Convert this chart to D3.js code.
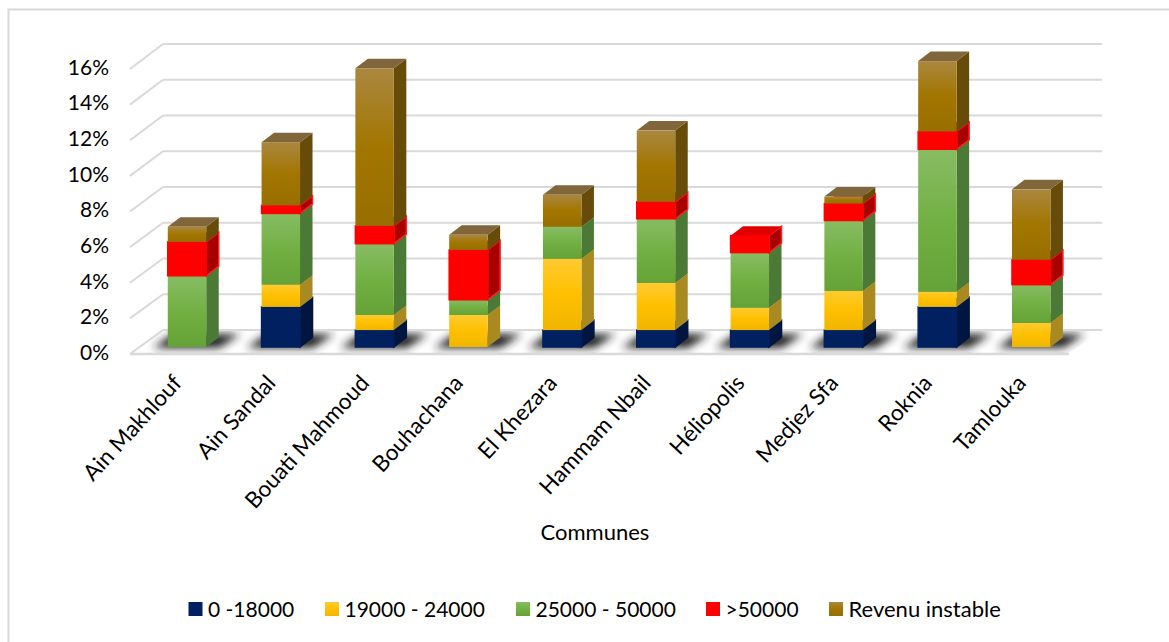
<!DOCTYPE html>
<html><head><meta charset="utf-8">
<script src="https://cdn.jsdelivr.net/npm/d3@7/dist/d3.min.js"></script>
<style>html,body{margin:0;padding:0;background:#fff;overflow:hidden}svg{display:block}</style>
</head><body><svg id="c" width="1169" height="642"></svg>
<script>
const categories=["Ain Makhlouf","Ain Sandal","Bouati Mahmoud","Bouhachana","El Khezara","Hammam Nbail","Héliopolis","Medjez Sfa","Roknia","Tamlouka"];
const seriesNames=["0 -18000","19000 - 24000","25000 - 50000",">50000","Revenu instable"];
const band1=[0,2.25,0.95,0,0.95,0.95,0.95,0.95,2.25,0];
const band2=[0,1.25,0.85,1.8,4.0,2.65,1.25,2.2,0.85,1.35];
const band3=[4.0,4.0,4.0,0.85,1.8,3.6,3.1,3.95,8.0,2.15];
const band4=[1.9,0.45,1.0,2.8,0,0.95,0.95,0.95,1.0,1.4];
const band5=[0.85,3.55,8.85,0.85,1.8,4.0,0,0.4,3.95,3.95];
const yTicks=[0,2,4,6,8,10,12,14,16];
const seriesBands=[band1,band2,band3,band4,band5];
const frontColors=[["#002060","#002060","#002060"],["#ffca30","#ffc000","#efb500"],["#88bc64","#72b043","#65a237"],["#ff0000","#ff0000","#ff0000"],["#aa8740","#a27600","#976e00"]];
const sideColors=["#001540","#a88a20","#4a7a35","#a80000","#664c08"];
const topColors=["#1a3670","#c09a30","#6e9a55","#e00000","#80663a"];
const legendSizes=[21,21,21,21,22];
const FONT="Lato";

const svg=d3.select("#c");
const defs=svg.append("defs");
frontColors.forEach((c,i)=>{
  const g=defs.append("linearGradient").attr("id","f"+i).attr("x1",0).attr("y1",0).attr("x2",0).attr("y2",1);
  [0,.5,1].forEach((o,j)=>g.append("stop").attr("offset",o).attr("stop-color",c[j]));
});
defs.append("filter").attr("id","blur").attr("x","-40%").attr("y","-80%").attr("width","180%").attr("height","260%")
  .append("feGaussianBlur").attr("stdDeviation",4.5);
defs.append("clipPath").attr("id","floorClip").append("polygon").attr("points","130,353 163,331 1102,331 1069,353");

// frame, open on the right and bottom
svg.append("path").attr("d","M1169,9.5H8.5V642").attr("fill","none").attr("stroke","#d9d9d9").attr("stroke-width",2);

const yFront=d3.scaleLinear().domain([0,16]).range([354,69]);
const yBack=d3.scaleLinear().domain([0,16]).range([330,44]);
const yBar=d3.scaleLinear().domain([0,16]).range([347,62]);
const x=d3.scaleBand().domain(categories).range([140.1,1078.1]).paddingInner(0.59).paddingOuter(0.295);
const dx=12.5,dy=9.5;

const GRID="#d9d9d9";
// floor
svg.append("line").attr("x1",130).attr("x2",1069).attr("y1",354).attr("y2",354).attr("stroke",GRID).attr("stroke-width",2.5);
svg.append("line").attr("x1",163).attr("x2",1102).attr("y1",330).attr("y2",330).attr("stroke",GRID).attr("stroke-width",2);
svg.append("line").attr("x1",130).attr("x2",163).attr("y1",354).attr("y2",330).attr("stroke",GRID).attr("stroke-width",2);
// wall grid
const grid=svg.append("g").selectAll("g").data(yTicks.slice(1)).join("g");
grid.append("line").attr("x1",163).attr("x2",1102).attr("y1",d=>yBack(d)).attr("y2",d=>yBack(d)).attr("stroke",GRID).attr("stroke-width",2);
grid.append("line").attr("x1",130).attr("x2",163).attr("y1",d=>yFront(d)).attr("y2",d=>yBack(d)).attr("stroke",GRID).attr("stroke-width",2);

// shadows
svg.append("g").attr("clip-path","url(#floorClip)").selectAll("polygon").data(categories).join("polygon")
  .attr("filter","url(#blur)").attr("fill","#222")
  .attr("points",d=>{const a=x(d),b=a+x.bandwidth();const y0=yBar(0);
    return [[a-15,y0+1],[a+5,y0-13],[b+34,y0-13],[b+13,y0+1]].map(p=>p.join(",")).join(" ");});

// axis labels
const yAxis=d3.axisLeft(yFront).tickValues(yTicks).tickSize(0).tickPadding(0).tickFormat(d=>d+"%");
const ag=svg.append("g").attr("transform","translate(109,0)").call(yAxis);
ag.select(".domain").remove();
ag.selectAll("text").attr("font-family",FONT).attr("font-size",21).attr("fill","#000").attr("dy","0.25em");

// bars
const stacks=categories.map((c,i)=>{let s=0;return seriesBands.map((b,k)=>{const r={c,k,v0:s,v1:s+b[i]};s+=b[i];return r;}).filter(r=>r.v1>r.v0);});
const barG=svg.append("g").selectAll("g").data(stacks).join("g");
barG.each(function(segs){
  const g=d3.select(this);
  segs.forEach(s=>{
    const a=x(s.c),w=x.bandwidth(),b=a+w,t=yBar(s.v1),o=yBar(s.v0);
    const grow=(s.k===0||s.k===3)?1:0;
    const sw=grow?1.5:0;
    const col=frontColors[s.k][0];
    g.append("polygon").attr("points",[[b,t],[b+dx,t-dy],[b+dx,o-dy],[b,o]].map(p=>p.join(",")).join(" "))
      .attr("fill",sideColors[s.k]).attr("stroke",s.k===3?"#ff2020":(grow?sideColors[s.k]:"none")).attr("stroke-width",sw);
    g.append("polygon").attr("points",[[a,t],[a+dx,t-dy],[b+dx,t-dy],[b,t]].map(p=>p.join(",")).join(" "))
      .attr("fill",topColors[s.k]);
    g.append("rect").attr("x",a).attr("y",t).attr("width",w).attr("height",o-t)
      .attr("fill","url(#f"+s.k+")").attr("stroke",grow?col:"none").attr("stroke-width",sw);
  });
});

// category labels
svg.append("g").selectAll("text").data(categories).join("text")
  .attr("transform",d=>`translate(${x(d)+x.bandwidth()/2-4},384) rotate(-47.5)`)
  .attr("text-anchor","end").attr("font-family",FONT).attr("font-size",22.5).attr("fill","#000").text(d=>d);

svg.append("text").attr("x",595).attr("y",540).attr("text-anchor","middle").attr("font-family",FONT).attr("font-size",22).attr("fill","#000").text("Communes");

// legend
const legendX=[188.5,325,516,706,829];
const lg=svg.append("g").selectAll("g").data(seriesNames).join("g").attr("transform",(d,i)=>`translate(${legendX[i]},602)`);
lg.append("rect").attr("width",14).attr("height",14).attr("fill",(d,i)=>"url(#f"+i+")");
lg.append("text").attr("x",19.5).attr("y",15).attr("font-family",FONT).attr("font-size",(d,i)=>legendSizes[i]).attr("fill","#000").text(d=>d);
</script></body></html>
